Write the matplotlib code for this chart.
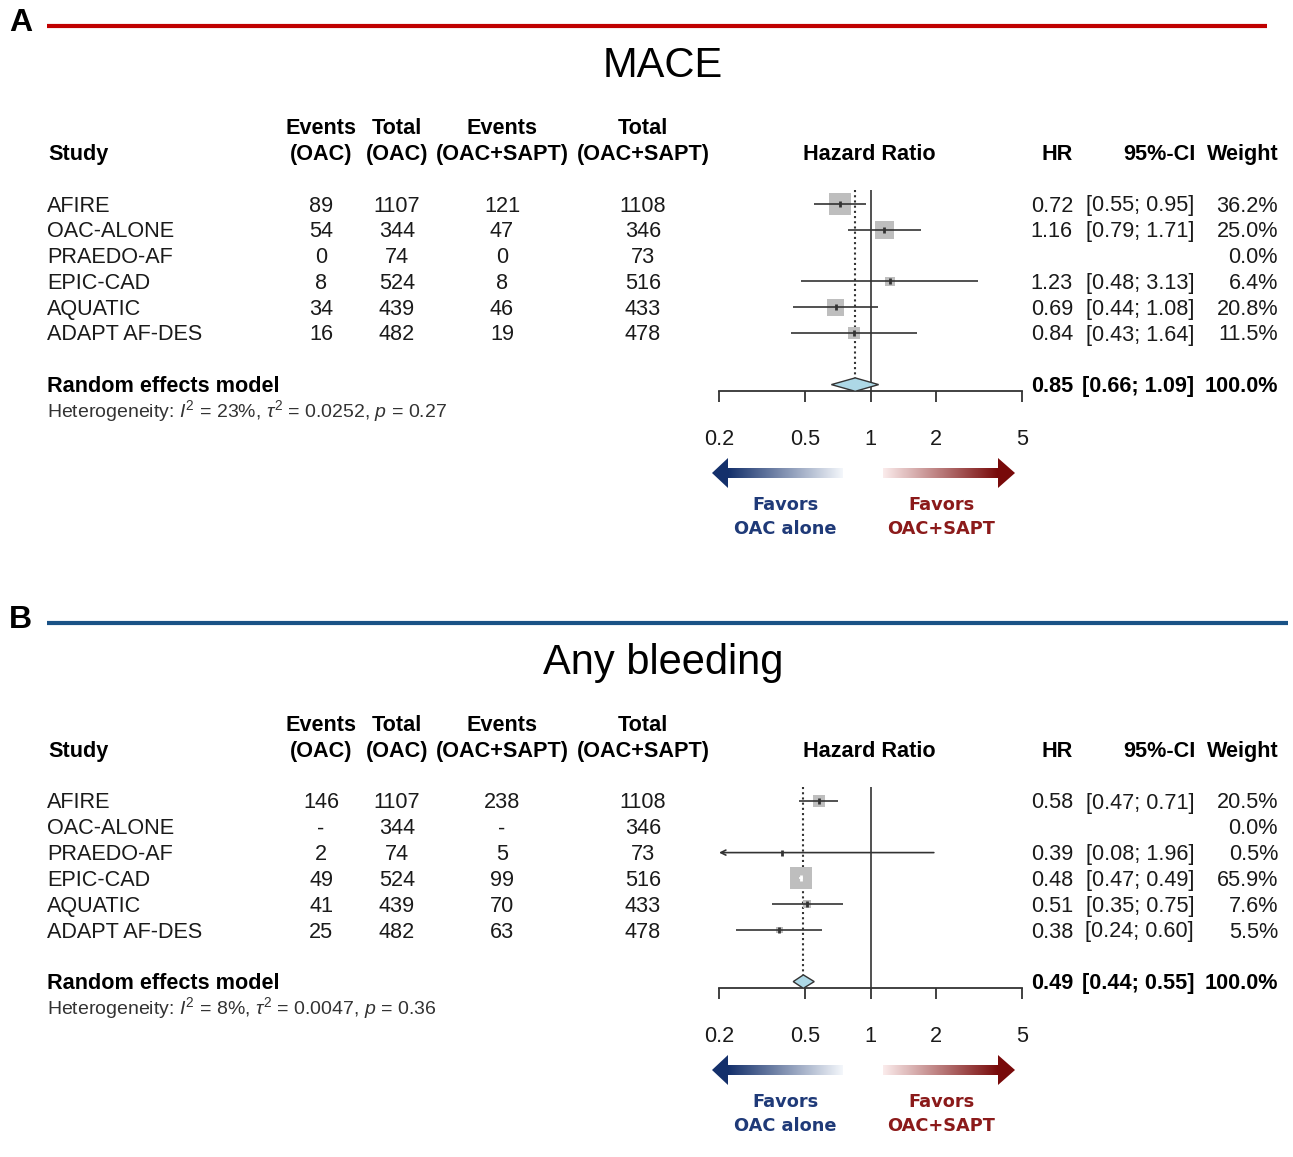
import numpy as np
import matplotlib
import matplotlib.pyplot as plt
from matplotlib.patches import Polygon
from matplotlib.colors import to_rgb

matplotlib.use('Agg')

plt.rcParams['font.family'] = ['Liberation Sans', 'DejaVu Sans']
plt.rcParams['mathtext.fontset'] = 'custom'
plt.rcParams['mathtext.rm'] = 'Liberation Sans'
plt.rcParams['mathtext.it'] = 'Liberation Sans:italic'

W, H = 1293, 1157

studies = ["AFIRE", "OAC-ALONE", "PRAEDO-AF", "EPIC-CAD", "AQUATIC", "ADAPT AF-DES"]
total_oac = [1107, 344, 74, 524, 439, 482]
total_sapt = [1108, 346, 73, 516, 433, 478]

# MACE
mace_events_oac = [89, 54, 0, 8, 34, 16]
mace_events_sapt = [121, 47, 0, 8, 46, 19]
mace_hr = [0.72, 1.16, None, 1.23, 0.69, 0.84]
mace_lo = [0.55, 0.79, None, 0.48, 0.44, 0.43]
mace_hi = [0.95, 1.71, None, 3.13, 1.08, 1.64]
mace_weight = [36.2, 25.0, 0.0, 6.4, 20.8, 11.5]
mace_pooled = [0.85, 0.66, 1.09]
mace_het = [23, 0.0252, 0.27]

# Any bleeding
bleed_events_oac = [146, None, 2, 49, 41, 25]
bleed_events_sapt = [238, None, 5, 99, 70, 63]
bleed_hr = [0.58, None, 0.39, 0.48, 0.51, 0.38]
bleed_lo = [0.47, None, 0.08, 0.47, 0.35, 0.24]
bleed_hi = [0.71, None, 1.96, 0.49, 0.75, 0.60]
bleed_weight = [20.5, 0.0, 0.5, 65.9, 7.6, 5.5]
bleed_pooled = [0.49, 0.44, 0.55]
bleed_het = [8, 0.0047, 0.36]

xticks = [0.2, 0.5, 1, 2, 5]

ROW = 25.8
FS = 15.6
LINE = '#333333'


def fmt_hr(v):
    return '' if v is None else f'{v:.2f}'


def fmt_ci(lo, hi):
    return '' if lo is None else f'[{lo:.2f}; {hi:.2f}]'


def fmt_n(v):
    return '-' if v is None else str(v)


def favor_arrow(ax0, shaft, tip, yc, c_strong, c_weak):
    # gradient shaft with a solid head at the tip end
    x0, x1 = shaft
    n = 256
    grad = np.zeros((1, n, 3))
    a, b = np.array(to_rgb(c_strong)), np.array(to_rgb(c_weak))
    t = np.linspace(0, 1, n)[:, None]
    if tip < x0:
        grad[0] = a * (1 - t) + b * t
    else:
        grad[0] = b * (1 - t) + a * t
    ax0.imshow(grad, extent=(x0, x1, yc + 5, yc - 5), aspect='auto', interpolation='bilinear')
    base = x0 if tip < x0 else x1
    ax0.add_patch(Polygon([(tip, yc), (base, yc - 15), (base, yc + 15)], closed=True,
                          facecolor=c_strong, edgecolor='none'))


def panel(fig, ax0, dy, letter, line_color, line_end, title,
          ev_oac, ev_sapt, hr, lo, hi, weight, pooled, het):
    ax0.text(9, 31 + dy, letter, fontsize=23, fontweight='bold', ha='left', va='baseline')
    ax0.plot([47, line_end], [26 + dy, 26 + dy], color=line_color, lw=3, solid_capstyle='butt')
    ax0.text(663, 77 + dy, title, fontsize=30, ha='center', va='baseline')

    row0 = 204 + dy
    base = lambda r: row0 + r * ROW + 7.5

    # column headers
    hdr = dict(fontsize=FS, fontweight='bold', va='baseline')
    y1, y2 = base(-3), base(-2)
    ax0.text(48, y2, 'Study', ha='left', **hdr)
    ax0.text(321, y1, 'Events', ha='center', **hdr)
    ax0.text(321, y2, '(OAC)', ha='center', **hdr)
    ax0.text(397, y1, 'Total', ha='center', **hdr)
    ax0.text(397, y2, '(OAC)', ha='center', **hdr)
    ax0.text(502, y1, 'Events', ha='center', **hdr)
    ax0.text(502, y2, '(OAC+SAPT)', ha='center', **hdr)
    ax0.text(643, y1, 'Total', ha='center', **hdr)
    ax0.text(643, y2, '(OAC+SAPT)', ha='center', **hdr)
    ax0.text(869, y2, 'Hazard Ratio', ha='center', **hdr)
    ax0.text(1073, y2, 'HR', ha='right', **hdr)
    ax0.text(1195, y2, '95%-CI', ha='right', **hdr)
    ax0.text(1279, y2, 'Weight', ha='right', **hdr)

    cell = dict(fontsize=FS, va='baseline', color='#1a1a1a')
    for i, name in enumerate(studies):
        y = base(i)
        ax0.text(47, y, name, ha='left', **cell)
        ax0.text(321, y, fmt_n(ev_oac[i]), ha='center', **cell)
        ax0.text(397, y, str(total_oac[i]), ha='center', **cell)
        ax0.text(502, y, fmt_n(ev_sapt[i]), ha='center', **cell)
        ax0.text(643, y, str(total_sapt[i]), ha='center', **cell)
        ax0.text(1073, y, fmt_hr(hr[i]), ha='right', **cell)
        ax0.text(1194, y, fmt_ci(lo[i], hi[i]), ha='right', **cell)
        ax0.text(1278, y, f'{weight[i]:.1f}%', ha='right', **cell)

    y = base(7)
    bold = dict(fontsize=FS, fontweight='bold', va='baseline')
    ax0.text(47, y, 'Random effects model', ha='left', **bold)
    ax0.text(1073, y, f'{pooled[0]:.2f}', ha='right', **bold)
    ax0.text(1194, y, fmt_ci(pooled[1], pooled[2]), ha='right', **bold)
    ax0.text(1278, y, '100.0%', ha='right', **bold)
    i2, tau2, p = het
    ax0.text(47, base(8) - 1,
             rf'Heterogeneity: $I^2$ = {i2}%, $\tau^2$ = {tau2:.4f}, $p$ = {p:.2f}',
             fontsize=14, ha='left', va='baseline', color='#333333')

    # forest plot, log scale, rows counted from the first study
    top_px, bot_px = 190 + dy, 391 + dy
    ax = fig.add_axes([719 / W, 1 - bot_px / H, (1022 - 719) / W, (bot_px - top_px) / H])
    ax.set_facecolor('none')
    ax.set_xscale('log')
    ax.set_xlim(0.2, 5)
    ax.set_ylim((bot_px - row0) / ROW, (top_px - row0) / ROW)
    for s in ['top', 'left', 'right']:
        ax.spines[s].set_visible(False)
    ax.spines['bottom'].set_color(LINE)
    ax.spines['bottom'].set_linewidth(1.3)
    ax.set_yticks([])
    ax.xaxis.set_major_locator(matplotlib.ticker.FixedLocator(xticks))
    ax.xaxis.set_minor_locator(matplotlib.ticker.NullLocator())
    ax.set_xticklabels([str(t) for t in xticks])
    ax.tick_params(axis='x', length=8, width=1.3, color=LINE, pad=19, labelsize=FS,
                   labelcolor='#1a1a1a')

    ax.axvline(1, color=LINE, lw=1.2, zorder=1)
    ax.vlines(pooled[0], ax.get_ylim()[1], 7 - 0.25, colors=LINE, linestyles=(0, (1, 1.5)), lw=1.5,
              zorder=1)

    wmax = max(weight)
    px_per_dec = (1022 - 719) / np.log10(25)
    for i in range(len(studies)):
        if hr[i] is None:
            continue
        side = 22 * np.sqrt(weight[i] / wmax)
        ax.scatter([hr[i]], [i], marker='s', s=(side * 0.72) ** 2, color='#BEBEBE',
                   edgecolors='none', zorder=2)
        ci_px = np.log10(hi[i] / lo[i]) * px_per_dec
        c = 'white' if ci_px < side else LINE
        x_lo = max(lo[i], 0.2)
        if lo[i] < 0.2:
            ax.annotate('', xy=(0.2, i), xytext=(hi[i], i),
                        arrowprops=dict(arrowstyle='->', color=c, lw=1.2, shrinkA=0, shrinkB=0,
                                        mutation_scale=9), zorder=3)
        else:
            ax.hlines(i, x_lo, hi[i], colors=c, lw=1.2, zorder=3)
        ax.plot([hr[i]], [i], marker='|', ms=5, mew=2, color=c, zorder=4)

    est, plo, phi = pooled
    ax.add_patch(Polygon([(plo, 7), (est, 7 - 0.26), (phi, 7), (est, 7 + 0.26)], closed=True,
                         facecolor='#ADD8E6', edgecolor=LINE, lw=1.0, zorder=5))

    # direction arrows under the axis
    yc = 473 + dy
    favor_arrow(ax0, (728, 843), 712, yc, '#14306B', '#F4F7FB')
    favor_arrow(ax0, (883, 998), 1015, yc, '#780A0A', '#FBECEC')
    fav = dict(fontsize=12.8, fontweight='bold', family=['DejaVu Sans'], ha='center',
               va='baseline')
    ax0.text(785, 510 + dy, 'Favors', color='#1F3A78', **fav)
    ax0.text(785, 534 + dy, 'OAC alone', color='#1F3A78', **fav)
    ax0.text(941, 510 + dy, 'Favors', color='#8B1A1A', **fav)
    ax0.text(941, 534 + dy, 'OAC+SAPT', color='#8B1A1A', **fav)


fig = plt.figure(figsize=(W / 100, H / 100), dpi=100)
ax0 = fig.add_axes([0, 0, 1, 1])
ax0.axis('off')

panel(fig, ax0, 0, 'A', '#C00000', 1267, 'MACE',
      mace_events_oac, mace_events_sapt, mace_hr, mace_lo, mace_hi, mace_weight,
      mace_pooled, mace_het)
panel(fig, ax0, 597, 'B', '#1A5286', 1288, 'Any bleeding',
      bleed_events_oac, bleed_events_sapt, bleed_hr, bleed_lo, bleed_hi, bleed_weight,
      bleed_pooled, bleed_het)

ax0.set_xlim(0, W)
ax0.set_ylim(H, 0)

fig.savefig('out.png', dpi=100, facecolor='white')
